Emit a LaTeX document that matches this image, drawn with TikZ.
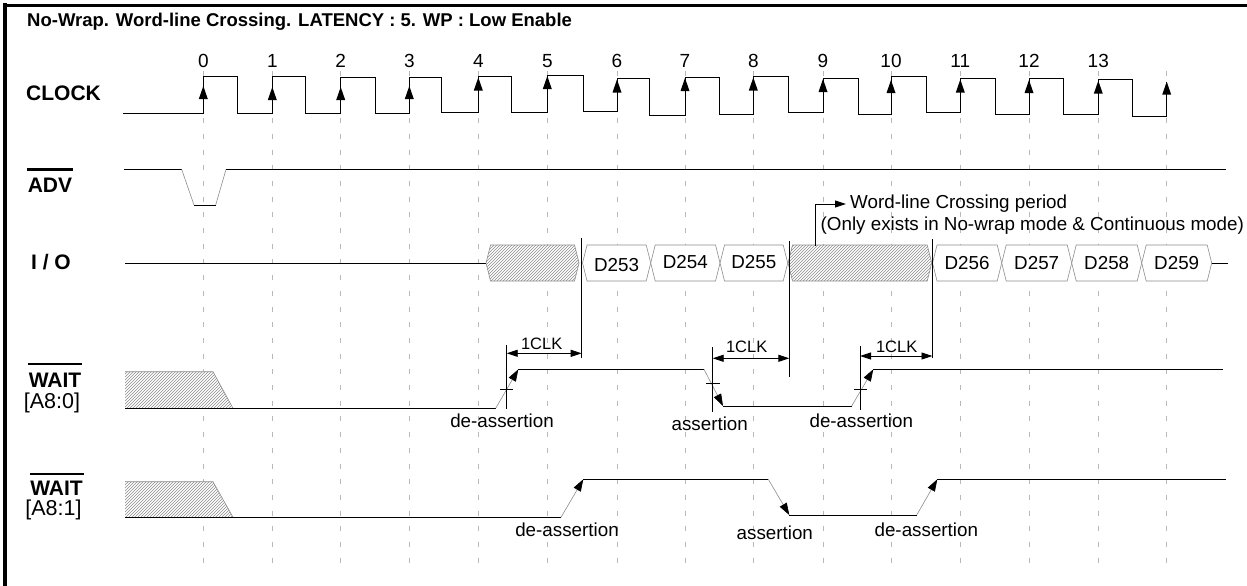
\documentclass[tikz,border=0pt]{standalone}
\usepackage{fontspec}
\setmainfont{Liberation Sans}
\usetikzlibrary{arrows.meta,patterns}
\begin{document}
\begin{tikzpicture}[x=1pt,y=-1pt,
  sig/.style={line width=1pt,black},
  fine/.style={line width=0.9pt,black},
  slope/.style={line width=0.6pt,black!45},
  gridl/.style={line width=0.8pt,black!28,dash pattern=on 5pt off 10.7pt},
  bus/.style={line width=0.6pt,black!45,line join=miter},
  hatch/.style={pattern=north east lines,pattern color=black!45},
  lbl/.style={font=\fontsize{21}{24}\selectfont\bfseries,inner sep=0pt,anchor=base},
  sublbl/.style={font=\fontsize{21.5}{24}\selectfont,inner sep=0pt,anchor=base},
  num/.style={font=\fontsize{19}{22}\selectfont,inner sep=0pt,anchor=base},
  txt/.style={font=\fontsize{18.8}{22}\selectfont,inner sep=0pt,anchor=base},
  clk/.style={font=\fontsize{16.5}{18}\selectfont,inner sep=0pt,anchor=base},
  ovl/.style={line width=2.8pt},
  wtip/.style={-{Triangle[length=12pt,width=8pt,color=black]}},
  dim/.style={fine,{Triangle[length=11pt,width=7pt]}-{Triangle[length=11pt,width=7pt]}},
]
\useasboundingbox (0,0) rectangle (1247,586);
% frame
\draw[line width=4pt] (5,3.5) -- (5,586);
\draw[line width=3pt] (3,5.5) -- (1247,5.5);
% title
\node[font=\fontsize{18.5}{22}\selectfont\bfseries,inner sep=0pt,anchor=base west] (title) at (27,26.7) {No-Wrap. Word-line Crossing. LATENCY : 5. WP : Low Enable};
% grid lines and clock numbers
\foreach \x [count=\i from 0] in {203.3,272.3,340.7,409.3,478.3,547.3,617,685,753.3,823,891,960.3,1029,1098.3,1166.7} {
  \draw[gridl] (\x,71) -- (\x,567);
}
\foreach \x [count=\i from 0] in {203.3,272.3,340.7,409.3,478.3,547.3,617,685,753.3,823,891,960.3,1029,1098.3} {
  \node[num] (n\i) at (\x,67.5) {\i};
}
% row labels
\node[lbl] (lclk) at (63.5,100.7) {CLOCK};
\node[lbl] (ladv) at (50,192.7) {ADV};
\draw[ovl] (27,169.3) -- (73,169.3);
\node[lbl] (lio) at (51,269) {I / O};
\node[lbl] (lw0) at (55,387.3) {WAIT};
\draw[ovl] (28,364) -- (82,364);
\node[sublbl] (la0) at (52,408) {[A8:0]};
\node[lbl] (lw1) at (56.5,495.7) {WAIT};
\draw[ovl] (30,474) -- (84,474);
\node[sublbl] (la1) at (53.5,515) {[A8:1]};
% clock
\draw[sig] (123,113.3) -- (203.3,113.3) -- (203.3,76.7) -- (237.3,76.7) -- (237.3,113.3) -- (272.3,113.3) -- (272.3,76.7) -- (305.7,76.7) -- (305.7,113.3) -- (340.7,113.3) -- (340.7,77.3) -- (375.7,77.3) -- (375.7,113.3) -- (409.3,113.3) -- (409.3,77.3) -- (441,77.3) -- (441,112.7) -- (478.3,112.7) -- (478.3,76.7) -- (511,76.7) -- (511,112.7) -- (547.3,112.7) -- (547.3,75) -- (583.3,75) -- (583.3,111.7) -- (617,111.7) -- (617,78.3) -- (649.3,78.3) -- (649.3,115.3) -- (685,115.3) -- (685,77.3) -- (719,77.3) -- (719,114) -- (753.3,114) -- (753.3,76) -- (788.3,76) -- (788.3,112.7) -- (823,112.7) -- (823,78.3) -- (858.3,78.3) -- (858.3,114) -- (891,114) -- (891,76) -- (926.7,76) -- (926.7,112.7) -- (960.3,112.7) -- (960.3,78.3) -- (995.7,78.3) -- (995.7,114) -- (1029,114) -- (1029,78.3) -- (1063.3,78.3) -- (1063.3,114) -- (1098.3,114) -- (1098.3,79.3) -- (1132.3,79.3) -- (1132.3,116.3) -- (1166.7,116.3) -- (1166.7,82);
\foreach \x/\t in {203.3/86,272.3/87,340.7/87,409.3/86,478.3/77.5,547.3/76,617/79.5,685/78,753.3/77.5,823/79,891/80,960.3/79.5,1029/80,1098.3/80.7,1166.7/81.7} {
  \fill (\x,\t) -- (\x-4.5,\t+13) -- (\x+4.5,\t+13) -- cycle;
}
% ADV
\draw[sig] (124,169.5) -- (181.7,169.5);
\draw[slope] (181.7,169.5) -- (194,205);
\draw[sig] (194,205) -- (215.7,205);
\draw[slope] (215.7,205) -- (226,169.5);
\draw[sig] (226,169.5) -- (1226,169.5);
% I/O
\draw[sig] (125,263) -- (486,263);
\draw[bus,preaction={fill=white},hatch] (486,263) -- (490.5,245) -- (574.5,245) -- (579,263) -- (574.5,281) -- (490.5,281) -- cycle;
\draw[bus,preaction={fill=white},hatch] (788,263) -- (792.5,245) -- (927.2,245) -- (931.7,263) -- (927.2,281) -- (792.5,281) -- cycle;
\foreach \a/\b/\y/\t in {582.5/650.7/271.2/D253,650.7/720/268.3/D254,720/787.7/268.5/D255,932.5/1001.7/269.3/D256,1001.7/1071.7/269.3/D257,1071.7/1141.7/269.3/D258,1141.7/1211.7/269.3/D259} {
  \draw[bus,fill=white] (\a,263) -- (\a+4.5,245) -- (\b-4.5,245) -- (\b,263) -- (\b-4.5,281) -- (\a+4.5,281) -- cycle;
  \node[txt] (\t) at ({(\a+\b)/2},\y) {\t};
}
\draw[sig] (1211.7,263) -- (1228,263);
% reference lines
\draw[fine] (581.7,238) -- (581.7,358);
\draw[fine] (789.3,241) -- (789.3,377.3);
\draw[fine] (932.5,239) -- (932.5,358);
% word-line crossing note
\draw[fine,-{Triangle[length=11pt,width=7pt]}] (815,246) -- (815,204) -- (846,204);
\node[txt,anchor=base west] (wl1) at (850,208.3) {Word-line Crossing period};
\node[txt,anchor=base west] (wl2) at (820.5,230) {(Only exists in No-wrap mode \& Continuous mode)};
% WAIT [A8:0]
\fill[white] (125,371.7) -- (213,371.7) -- (233,408.3) -- (125,408.3) -- cycle;
\fill[hatch] (125,371.7) -- (213,371.7) -- (233,408.3) -- (125,408.3) -- cycle;
\draw[slope] (125,371.7) -- (213,371.7) -- (233,408.3);
\draw[sig] (125,408.3) -- (495.7,408.3);
\draw[slope,wtip] (495.7,408.3) -- (518.3,369.3);
\draw[sig] (518.3,369.3) -- (704,369.3);
\draw[slope,wtip] (704,369.3) -- (723,406);
\draw[sig] (723,406) -- (851.7,406);
\draw[slope,wtip] (851.7,406) -- (873.3,369.3);
\draw[sig] (873.3,369.3) -- (1222.7,369.3);
% ticks
\draw[fine] (506.7,345) -- (506.7,409.3);
\draw[fine] (500,389.3) -- (513.3,389.3);
\draw[fine] (712.7,347) -- (712.7,411.7);
\draw[fine] (706,383.3) -- (720,383.3);
\draw[fine] (860,346) -- (860,410);
\draw[fine] (854,389.3) -- (867,389.3);
% 1CLK dims
\coordinate (c1a) at (506.7,353.3); \coordinate (c1b) at (581.7,353.3);
\coordinate (c2a) at (712.7,358.3); \coordinate (c2b) at (789.3,358.3);
\coordinate (c3a) at (860,356);     \coordinate (c3b) at (932.5,356);
\draw[dim] (c1a) -- (c1b);
\draw[dim] (c2a) -- (c2b);
\draw[dim] (c3a) -- (c3b);
\node[clk] (k1) at (541.7,349) {1CLK};
\node[clk] (k2) at (746.7,352.3) {1CLK};
\node[clk] (k3) at (896.7,352.3) {1CLK};
\node[txt] (e1) at (502,427.3) {de-assertion};
\node[txt] (e2) at (709.7,430) {assertion};
\node[txt] (e3) at (861.3,427.3) {de-assertion};
% WAIT [A8:1]
\fill[white] (125,481.7) -- (213,481.7) -- (233,517.3) -- (125,517.3) -- cycle;
\fill[hatch] (125,481.7) -- (213,481.7) -- (233,517.3) -- (125,517.3) -- cycle;
\draw[slope] (125,481.7) -- (213,481.7) -- (233,517.3);
\draw[sig] (125,517.3) -- (561,517.3);
\draw[slope,wtip] (561,517.3) -- (583.3,479.3);
\draw[sig] (583.3,479.3) -- (768.3,479.3);
\draw[slope,wtip] (768.3,479.3) -- (789.3,515);
\draw[sig] (789.3,515) -- (916.7,515);
\draw[slope,wtip] (916.7,515) -- (937.3,479.3);
\draw[sig] (937.3,479.3) -- (1225.7,479.3);
\node[txt] (f1) at (567,536) {de-assertion};
\node[txt] (f2) at (774.8,539.3) {assertion};
\node[txt] (f3) at (926.3,536) {de-assertion};
\end{tikzpicture}
\end{document}
